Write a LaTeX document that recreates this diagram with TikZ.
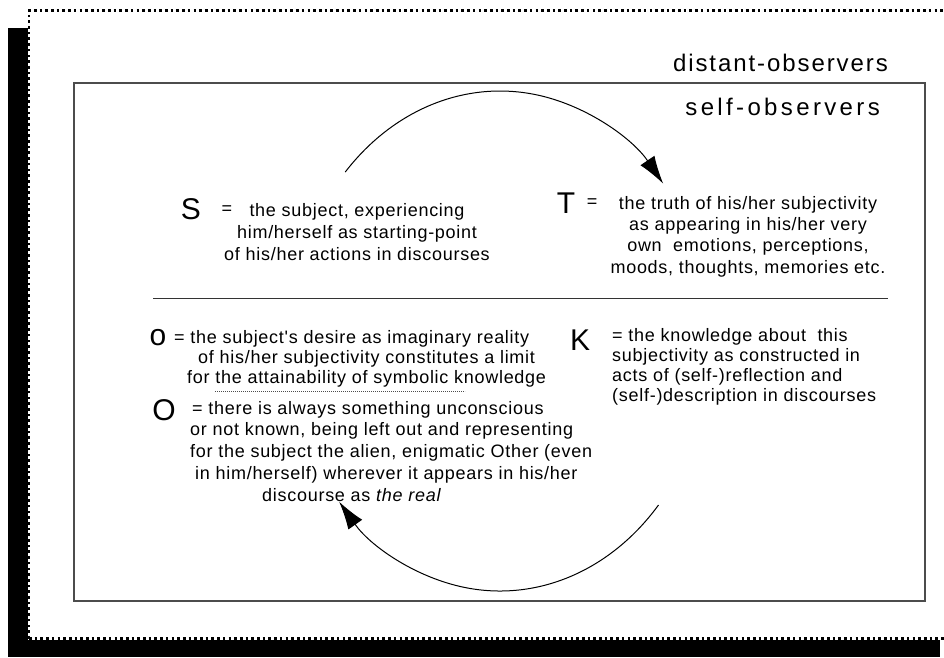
\documentclass[tikz,border=0pt]{standalone}
\usepackage{fontspec}
\setmainfont{Liberation Sans}
\usetikzlibrary{arrows.meta}
\newcommand{\dgBody}[1]{\fontsize{18}{#1}\selectfont\addfontfeatures{LetterSpace=4,Ligatures=TeXOff}}
\begin{document}
\begin{tikzpicture}[x=1pt,y=-1pt,
  body/.style={inner sep=0pt, font=\dgBody{22}},
  big/.style={inner sep=0pt, font=\fontsize{30}{30}\selectfont},
  titletext/.style={inner sep=0pt, anchor=base east},
  loop/.style={line width=1pt, -{Latex[length=28pt,width=17pt]}},
  frame/.style={line width=2.6pt, dash pattern=on 2.6pt off 3.1pt},
  box/.style={draw=black!70, line width=1.6pt},
  sep/.style={draw=black!80, line width=1pt},
  ul/.style={draw=black!70, line width=0.7pt, dash pattern=on 0.8pt off 1.2pt}
]
\useasboundingbox (0,0) rectangle (944,657);
\clip (0,0) rectangle (944,657);
% shadow and dotted frame
\fill[black] (8,28) rectangle (27.7,657);
\fill[black] (8,640) rectangle (940,657);
\draw[frame] (29,638.5) -- (29,10.7) -- (960,10.7);
\draw[frame] (29,638.5) -- (960,638.5);
% inner box and separator
\draw[box] (74,83) rectangle (925,601);
\coordinate (sepL) at (153,298);
\coordinate (sepR) at (888,298);
\draw[sep] (sepL) -- (sepR);
% titles
\node[titletext, font=\fontsize{24}{24}\selectfont\addfontfeatures{LetterSpace=8}] (dist) at (888,71) {distant-observers};
\node[titletext, font=\fontsize{24}{24}\selectfont\addfontfeatures{LetterSpace=14}] (self) at (880,115) {self-observers};
% S
\node[big] (S) at (191,209) {S};
\node[body] (Seq) at (227,210) {=};
\node[body, align=center, anchor=north] (Stext) at (357,203)
  {the subject, experiencing\\him/herself as starting-point\\of his/her actions in discourses};
% T
\node[big] (T) at (566,203) {T};
\node[body] (Teq) at (592,203) {=};
\node[body, font=\dgBody{21.3}, align=center, anchor=north] (Ttext) at (748,196)
  {the truth of his/her subjectivity\\as appearing in his/her very\\own\ \ emotions, perceptions,\\moods, thoughts, memories etc.};
% o
\node[big] (o) at (158,338) {o};
\node[body, font=\dgBody{20}, align=left, anchor=north west] (otext) at (174,330)
  {= the subject's desire as imaginary reality\\\hspace*{24pt}of his/her subjectivity constitutes a limit\\\hspace*{13pt}for the attainability of symbolic knowledge};
\coordinate (ulA) at (215,391);
\coordinate (ulB) at (465,391);
\draw[ul] (ulA) -- (ulB);
% O
\node[big] (O) at (164,410) {O};
\node[body, font=\dgBody{21.7}, align=left, anchor=north west] (Otext) at (190,401)
  {\hspace*{2pt}= there is always something unconscious\\or not known, being left out and representing\\for the subject the alien, enigmatic Other (even\\\hspace*{5pt}in him/herself) wherever it appears in his/her\\\hspace*{72pt}discourse as \textit{the real}};
% K
\node[big] (K) at (580,340) {K};
\node[body, font=\dgBody{20}, align=left, anchor=north west] (Ktext) at (612,328)
  {= the knowledge about\ \ this\\subjectivity as constructed in\\acts of (self-)reflection and\\(self-)description in discourses};
% loops
\coordinate (C) at (500,341);
\draw[loop] ([shift={(-137.5:210 and 250)}]C) arc[start angle=-137.5, end angle=-39, x radius=210, y radius=250];
\draw[loop] ([shift={(41:210 and 250)}]C) arc[start angle=41, end angle=140, x radius=210, y radius=250];
\end{tikzpicture}
\end{document}
